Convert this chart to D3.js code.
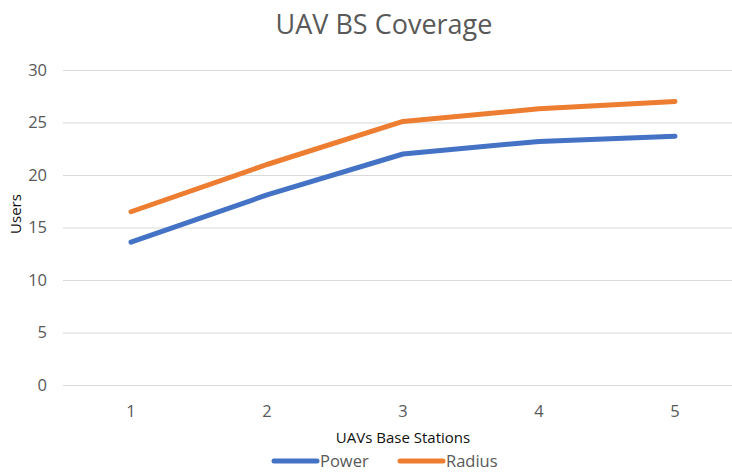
<!DOCTYPE html>
<html>
<head>
<meta charset="utf-8">
<script src="https://cdn.jsdelivr.net/npm/d3@7"></script>
<style>
  body { margin: 0; background: #fff; }
  svg { display: block; font-family: "Open Sans", "Noto Sans", sans-serif; }
</style>
</head>
<body>
<svg width="732" height="474"></svg>
<script>
const categories = ["1", "2", "3", "4", "5"];
const power = [13.6, 18.1, 22.0, 23.2, 23.7];
const radius = [16.5, 21.0, 25.1, 26.3, 27.0];
const yTicks = [0, 5, 10, 15, 20, 25, 30];
const seriesNames = ["Power", "Radius"];
const colors = ["#4472C4", "#ED7D31"];

let svg = d3.select("svg");
let margin = {top: 70, left: 63, bottom: 89}, width = 680, height = 474 - margin.top - margin.bottom;

let x = d3.scaleBand().domain(categories).range([margin.left, margin.left + width]);
let y = d3.scaleLinear().domain([0, 30]).range([margin.top + height, margin.top]);

// gridlines
svg.append("g")
  .selectAll("line")
  .data(yTicks)
  .enter().append("line")
  .attr("x1", margin.left)
  .attr("x2", 732)
  .attr("y1", d => y(d) + 0.5)
  .attr("y2", d => y(d) + 0.5)
  .attr("stroke", "#d9d9d9")
  .attr("stroke-width", 1);

// y tick labels
svg.append("g")
  .selectAll("text")
  .data(yTicks)
  .enter().append("text")
  .attr("x", 47)
  .attr("y", d => y(d))
  .attr("dy", "0.35em")
  .attr("text-anchor", "end")
  .attr("fill", "#595959")
  .attr("font-size", 16.5)
  .text(d => d);

// x tick labels
svg.append("g")
  .selectAll("text")
  .data(categories)
  .enter().append("text")
  .attr("x", d => x(d) + x.bandwidth() / 2)
  .attr("y", 417)
  .attr("text-anchor", "middle")
  .attr("fill", "#595959")
  .attr("font-size", 16.5)
  .text(d => d);

let line = d3.line()
  .x((d, i) => x(categories[i]) + x.bandwidth() / 2)
  .y(d => y(d));

[power, radius].forEach((s, i) => {
  svg.append("path")
    .datum(s)
    .attr("fill", "none")
    .attr("stroke", colors[i])
    .attr("stroke-width", 5)
    .attr("stroke-linecap", "round")
    .attr("stroke-linejoin", "round")
    .attr("d", line);
});

// title
svg.append("text")
  .attr("x", 384)
  .attr("y", 34)
  .attr("text-anchor", "middle")
  .attr("fill", "#595959")
  .attr("font-size", 27)
  .text("UAV BS Coverage");

// axis titles
svg.append("text")
  .attr("x", 403)
  .attr("y", 443)
  .attr("text-anchor", "middle")
  .attr("fill", "#111")
  .attr("font-size", 15)
  .attr("font-weight", 500)
  .text("UAVs Base Stations");

svg.append("text")
  .attr("transform", "translate(21,214) rotate(-90)")
  .attr("text-anchor", "middle")
  .attr("fill", "#111")
  .attr("font-size", 15)
  .attr("font-weight", 500)
  .text("Users");

// legend
let legend = svg.append("g")
  .selectAll("g")
  .data(seriesNames)
  .enter().append("g")
  .attr("transform", (d, i) => "translate(" + (272 + i * 126) + ",461)");

legend.append("line")
  .attr("x1", 2)
  .attr("x2", 45)
  .attr("stroke", (d, i) => colors[i])
  .attr("stroke-width", 5)
  .attr("stroke-linecap", "round");

legend.append("text")
  .attr("x", 48)
  .attr("dy", "0.35em")
  .attr("fill", "#595959")
  .attr("font-size", 16.5)
  .text(d => d);
</script>
</body>
</html>
